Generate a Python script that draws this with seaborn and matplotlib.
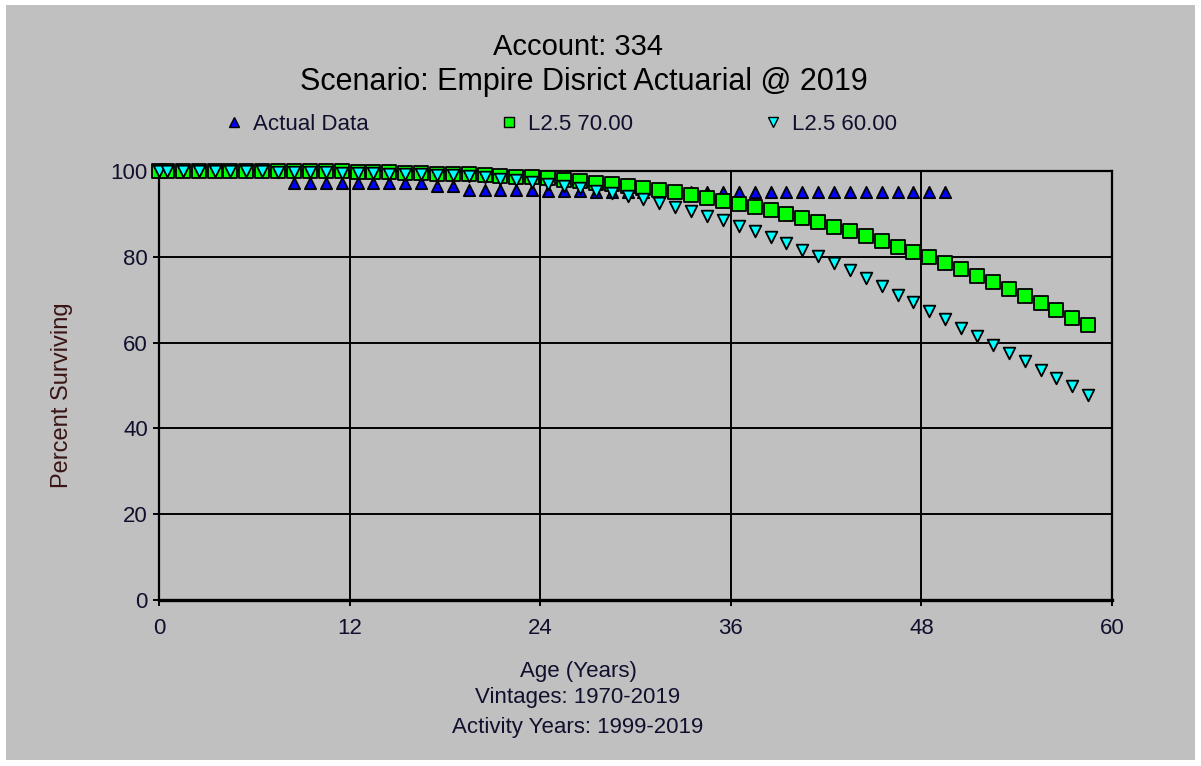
import matplotlib
matplotlib.use("Agg")
import matplotlib.pyplot as plt
from matplotlib.lines import Line2D
from matplotlib.patches import Rectangle
import pandas as pd
import seaborn as sns

# ---- data -------------------------------------------------------------
ages_actual = [0, 0.5, 1.5, 2.5, 3.5, 4.5, 5.5, 6.5, 7.5, 8.5, 9.5,
               10.5, 11.5, 12.5, 13.5, 14.5, 15.5, 16.5, 17.5, 18.5, 19.5,
               20.5, 21.5, 22.5, 23.5, 24.5, 25.5, 26.5, 27.5, 28.5, 29.5,
               30.5, 31.5, 32.5, 33.5, 34.5, 35.5, 36.5, 37.5, 38.5, 39.5,
               40.5, 41.5, 42.5, 43.5, 44.5, 45.5, 46.5, 47.5, 48.5, 49.5]
actual_pct = [100, 100, 100, 100, 100, 100, 99.9, 99.9, 99.9,
              97.2, 97.2, 97.2, 97.2, 97.2, 97.2, 97.2, 97.2, 97.2,
              96.4, 96.4,
              95.5, 95.5, 95.5, 95.5, 95.5,
              95.4, 95.4, 95.4,
              95.2, 95.2, 95.2, 95.2, 95.2, 95.2, 95.2,
              95.0, 95.0, 95.0, 95.0, 95.0, 95.0, 95.0, 95.0,
              95.0, 95.0, 95.0, 95.0, 95.0, 95.0, 95.0, 95.0]

ages_curve = [0, 0.5, 1.5, 2.5, 3.5, 4.5, 5.5, 6.5, 7.5, 8.5, 9.5,
              10.5, 11.5, 12.5, 13.5, 14.5, 15.5, 16.5, 17.5, 18.5, 19.5,
              20.5, 21.5, 22.5, 23.5, 24.5, 25.5, 26.5, 27.5, 28.5, 29.5,
              30.5, 31.5, 32.5, 33.5, 34.5, 35.5, 36.5, 37.5, 38.5, 39.5,
              40.5, 41.5, 42.5, 43.5, 44.5, 45.5, 46.5, 47.5, 48.5, 49.5,
              50.5, 51.5, 52.5, 53.5, 54.5, 55.5, 56.5, 57.5, 58.5]
l25_70_pct = [100, 100, 100, 100, 100, 100, 100, 99.9, 99.9, 99.9, 99.9,
              99.9, 99.9, 99.8, 99.8, 99.7, 99.6, 99.5, 99.4, 99.3, 99.2,
              99.0, 98.9, 98.7, 98.5, 98.3, 98.0, 97.7, 97.3, 96.9, 96.5,
              96.0, 95.5, 95.0, 94.4, 93.8, 93.1, 92.4, 91.6, 90.8, 89.9,
              89.0, 88.0, 87.0, 85.9, 84.8, 83.6, 82.4, 81.2, 79.9, 78.6,
              77.2, 75.6, 74.2, 72.5, 70.9, 69.3, 67.6, 65.8, 64.1]
l25_60_pct = [100, 100, 100, 100, 100, 99.9, 99.9, 99.9, 99.8, 99.8, 99.7,
              99.7, 99.6, 99.5, 99.5, 99.4, 99.3, 99.2, 99.1, 99.0, 98.8,
              98.5, 98.2, 97.9, 97.5, 97.0, 96.5, 96.0, 95.4, 94.8, 94.1,
              93.4, 92.6, 91.7, 90.7, 89.6, 88.5, 87.2, 86.0, 84.7, 83.3,
              81.7, 80.3, 78.6, 76.9, 75.0, 73.3, 71.2, 69.4, 67.3, 65.4,
              63.4, 61.6, 59.5, 57.6, 55.6, 53.5, 51.7, 49.8, 47.9]

series_names = ["Actual Data", "L2.5 70.00", "L2.5 60.00"]
x_ticks = [0, 12, 24, 36, 48, 60]
y_ticks = [0, 20, 40, 60, 80, 100]

# ---- style ------------------------------------------------------------
BG = "#c0c0c0"
plt.rcParams["font.family"] = ["Liberation Sans", "DejaVu Sans"]

W, H = 1201, 766
fig = plt.figure(figsize=(W / 100, H / 100), dpi=100, facecolor="white")
fig.add_artist(Rectangle((6 / W, 6 / H), (W - 12) / W, (H - 11) / H,
                         transform=fig.transFigure, facecolor=BG,
                         edgecolor="none", zorder=-5))

ax = fig.add_axes([159 / W, 1 - 600 / H, (1112 - 159) / W, (600 - 171) / H])
ax.set_facecolor(BG)

frames = [
    pd.DataFrame({"age": ages_actual, "pct": actual_pct}),
    pd.DataFrame({"age": ages_curve, "pct": l25_70_pct}),
    pd.DataFrame({"age": ages_curve, "pct": l25_60_pct}),
]
markers = ["^", "s", "v"]
fills = ["#0000ff", "#00ff00", "#00ffff"]
sizes = [66, 88, 70]
for i, df in enumerate(frames):
    sns.scatterplot(data=df, x="age", y="pct", ax=ax, marker=markers[i],
                    color=fills[i], edgecolor="black", linewidth=1.3,
                    s=sizes[i], clip_on=False, zorder=3 + i, legend=False)

ax.set_xlim(0, 60)
ax.set_ylim(0, 100)
ax.set_xticks(x_ticks)
ax.set_yticks(y_ticks)
ax.set_xticklabels([str(t) for t in x_ticks])
ax.set_yticklabels([str(t) for t in y_ticks])
ax.grid(True, color="black", linewidth=1.4)
ax.set_axisbelow(True)
for sp in ax.spines.values():
    sp.set_color("black")
    sp.set_linewidth(1.6)
ax.spines["bottom"].set_linewidth(2.4)
ax.tick_params(axis="both", length=4, width=1.4, color="black",
               labelsize=16, labelcolor="#10102e", pad=4)
ax.tick_params(axis="x", pad=9)
ax.set_xlabel("")
ax.set_ylabel("")

# titles
cx = 578 / W
fig.text(cx, 1 - 47 / H, "Account: 334", ha="center", va="center",
         fontsize=21, color="black")
fig.text(584 / W, 1 - 82 / H, "Scenario: Empire Disrict Actuarial @ 2019",
         ha="center", va="center", fontsize=22, color="black")

# axis captions
fig.text(62 / W, 1 - 395 / H, "Percent Surviving", rotation=90,
         ha="center", va="center", fontsize=17, color="#3a1414")
fig.text(cx, 1 - 672 / H, "Age (Years)", ha="center", va="center",
         fontsize=16, color="#10102e")
fig.text(cx, 1 - 698 / H, "Vintages: 1970-2019", ha="center", va="center",
         fontsize=16, color="#10102e")
fig.text(cx, 1 - 727 / H, "Activity Years: 1999-2019", ha="center",
         va="center", fontsize=16, color="#10102e")

# legend
handles = [Line2D([], [], linestyle="none", marker=markers[i],
                  markerfacecolor=fills[i], markeredgecolor="black",
                  markeredgewidth=1.0, markersize=7)
           for i in range(3)]
fig.legend(handles, series_names, loc="center", ncol=3,
           bbox_to_anchor=(561 / W, 1 - 124 / H), frameon=False,
           fontsize=16, handlelength=0.8, handletextpad=0.45,
           columnspacing=5.9, labelcolor="#10102e")

fig.savefig("out.png", dpi=100, facecolor="white")
